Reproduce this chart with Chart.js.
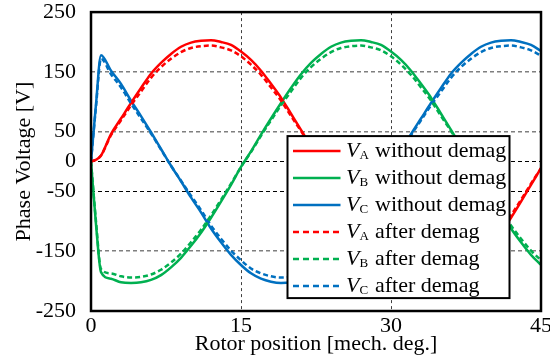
<!DOCTYPE html>
<html>
<head>
<meta charset="utf-8">
<script src="https://cdn.jsdelivr.net/npm/chart.js@4.4.1/dist/chart.umd.min.js"></script>
<style>
  html, body { margin: 0; padding: 0; background: #fff; overflow: hidden; }
  #wrap { width: 556px; height: 355px; }
</style>
</head>
<body>
<div id="wrap"><canvas id="myChart" width="556" height="355"></canvas></div>
<script>
// rotor position [mech. deg.]
var angles = [0, 0.5, 1, 2, 3, 4, 5, 6, 7, 8, 9, 10, 11, 12, 13, 14, 15, 16, 17, 18, 19, 20,
  21, 22, 23, 24, 25, 26, 27, 28, 29, 30, 31, 32, 33, 34, 35, 36, 37, 38, 39, 40, 41, 42, 43, 44, 45];

// phase voltages [V], healthy magnets
var vaWithout = [0, 3, 10, 46, 72, 98, 123, 147, 165, 180, 192, 199, 202, 203, 200, 195, 184, 170, 152, 130, 107, 80,
  53, 25, -3, -31, -59, -85, -112, -135, -156, -173, -187, -196, -201, -203, -202, -198, -190, -177, -161, -141, -119, -94, -67, -39, -11];
var vbWithout = [0, -105, -185, -196, -202, -203, -202, -198, -190, -177, -161, -141, -119, -94, -67, -39, -9, 17, 45, 72, 98, 123,
  146, 165, 180, 192, 199, 202, 203, 200, 195, 184, 170, 152, 130, 107, 80, 53, 25, -3, -31, -59, -85, -112, -135, -156, -173];
var vcWithout = [0, 96, 178, 152, 130, 102, 76, 49, 21, -7, -33, -60, -85, -112, -135, -156, -173, -187, -196, -201, -203, -202,
  -198, -190, -177, -161, -141, -119, -94, -67, -39, -11, 17, 46, 72, 98, 123, 147, 165, 180, 192, 199, 202, 203, 200, 195, 185];

// phase voltages [V], after demagnetization
var vaAfter = [0, 3, 10, 44, 69, 94, 117, 140, 158, 172, 183, 190, 193, 194, 191, 186, 176, 162, 145, 124, 102, 76,
  51, 24, -3, -30, -56, -81, -107, -129, -149, -165, -179, -187, -192, -194, -193, -189, -181, -169, -154, -135, -114, -90, -64, -37, -11];
var vbAfter = [0, -100, -180, -187, -192, -194, -193, -189, -181, -169, -154, -135, -114, -90, -64, -37, -9, 16, 43, 69, 94, 117,
  140, 158, 172, 183, 190, 193, 194, 191, 186, 176, 162, 145, 124, 102, 76, 51, 24, -3, -30, -56, -81, -107, -129, -149, -165];
var vcAfter = [0, 92, 172, 146, 124, 97, 72, 47, 20, -7, -32, -57, -81, -107, -129, -149, -165, -179, -187, -192, -194, -193,
  -189, -181, -169, -154, -135, -114, -90, -64, -37, -11, 16, 44, 69, 94, 117, 140, 158, 172, 183, 190, 193, 194, 191, 186, 177];

var xTicks = [0, 15, 30, 45];
var yTicks = [250, 150, 50, 0, -50, -150, -250];

var legendPhase = ['A', 'B', 'C', 'A', 'B', 'C'];
var legendCaption = ['without demag', 'without demag', 'without demag', 'after demag', 'after demag', 'after demag'];

var serif = "'Liberation Serif', 'Times New Roman', serif";
var red = '#ff0000', green = '#00b050', blue = '#0070c0';

function series(label, values, color, dashed) {
  return {
    label: label,
    data: values.map(function (v, i) { return { x: angles[i], y: v }; }),
    borderColor: color,
    borderWidth: 2.5,
    borderDash: dashed ? [5, 3] : [],
    pointRadius: 0,
    cubicInterpolationMode: 'monotone',
    fill: false,
    order: dashed ? 0 : 1
  };
}

// boxed plot area plus the legend drawn over the curves
var framePlugin = {
  id: 'frame',
  afterDatasetsDraw: function (chart) {
    var ctx = chart.ctx, a = chart.chartArea;
    var bx = a.left + 196.5, by = a.top + 124, bw = 222, bh = 162;
    ctx.save();
    ctx.fillStyle = '#fff';
    ctx.fillRect(bx, by, bw, bh);
    ctx.lineWidth = 2;
    ctx.strokeStyle = '#000';
    ctx.strokeRect(bx, by, bw, bh);
    chart.data.datasets.forEach(function (ds, i) {
      var y = by + 15 + i * 27;
      ctx.beginPath();
      ctx.setLineDash(ds.borderDash.length ? [6, 4] : []);
      ctx.strokeStyle = ds.borderColor;
      ctx.lineWidth = 2.5;
      ctx.moveTo(bx + 5.5, y);
      ctx.lineTo(bx + 53, y);
      ctx.stroke();
      ctx.setLineDash([]);
      ctx.fillStyle = '#000';
      ctx.textBaseline = 'alphabetic';
      ctx.textAlign = 'left';
      ctx.font = 'italic 22px ' + serif;
      ctx.fillText('V', bx + 58.5, y + 6);
      var w = ctx.measureText('V').width;
      ctx.font = '13px ' + serif;
      ctx.fillText(legendPhase[i], bx + 58.5 + w, y + 7.5);
      ctx.font = '22px ' + serif;
      ctx.fillText(legendCaption[i], bx + 87.5, y + 6);
    });
    ctx.lineWidth = 2.5;
    ctx.strokeStyle = '#000';
    ctx.strokeRect(a.left, a.top, a.right - a.left, a.bottom - a.top);
    ctx.restore();
  }
};

var ctx = document.getElementById('myChart').getContext('2d');

var myChart = new Chart(ctx, {
  type: 'line',
  data: {
    datasets: [
      series('VA without demag', vaWithout, red, false),
      series('VB without demag', vbWithout, green, false),
      series('VC without demag', vcWithout, blue, false),
      series('VA after demag', vaAfter, red, true),
      series('VB after demag', vbAfter, green, true),
      series('VC after demag', vcAfter, blue, true)
    ]
  },
  options: {
    responsive: false,
    animation: false,
    layout: { padding: { top: 0, left: 1, right: 0, bottom: 0 } },
    plugins: { legend: { display: false }, tooltip: { enabled: false } },
    scales: {
      x: {
        type: 'linear',
        min: 0,
        max: 45,
        afterBuildTicks: function (s) { s.ticks = xTicks.map(function (v) { return { value: v }; }); },
        afterFit: function (s) { s.height = 44; },
        ticks: { color: '#000', font: { family: serif, size: 22, lineHeight: 1 }, padding: 4, maxRotation: 0 },
        grid: {
          drawTicks: false,
          lineWidth: 1,
          color: function (c) {
            var v = c.tick ? c.tick.value : null;
            return (v === 0 || v === 45) ? 'rgba(0,0,0,0)' : '#404040';
          }
        },
        border: { display: false, dash: [3, 3] },
        title: {
          display: true,
          text: 'Rotor position [mech. deg.]',
          color: '#000',
          font: { family: serif, size: 22, lineHeight: 1 },
          padding: { top: 0, bottom: 0 }
        }
      },
      y: {
        type: 'linear',
        min: -250,
        max: 250,
        afterBuildTicks: function (s) { s.ticks = yTicks.map(function (v) { return { value: v }; }); },
        afterFit: function (s) { s.width = 90; },
        // the gap between labels and frame comes from invisible tick marks
        ticks: { color: '#000', font: { family: serif, size: 22, lineHeight: 1.1 }, padding: 0 },
        grid: {
          drawTicks: true,
          tickLength: 15,
          tickColor: 'rgba(0,0,0,0)',
          lineWidth: function (c) {
            var v = c.tick ? c.tick.value : null;
            return (v === 0 || v === -50) ? 1 : 1.5;
          },
          color: function (c) {
            var v = c.tick ? c.tick.value : null;
            if (v === 250 || v === -250) return 'rgba(0,0,0,0)';
            return (v === 0 || v === -50) ? '#000' : '#7f7f7f';
          }
        },
        border: { display: false, dash: [4, 3] },
        title: {
          display: true,
          text: 'Phase Voltage [V]',
          color: '#000',
          font: { family: serif, size: 22, lineHeight: 1 },
          padding: { top: 12.5, bottom: 0 }
        }
      }
    }
  },
  plugins: [framePlugin]
});
</script>
</body>
</html>
